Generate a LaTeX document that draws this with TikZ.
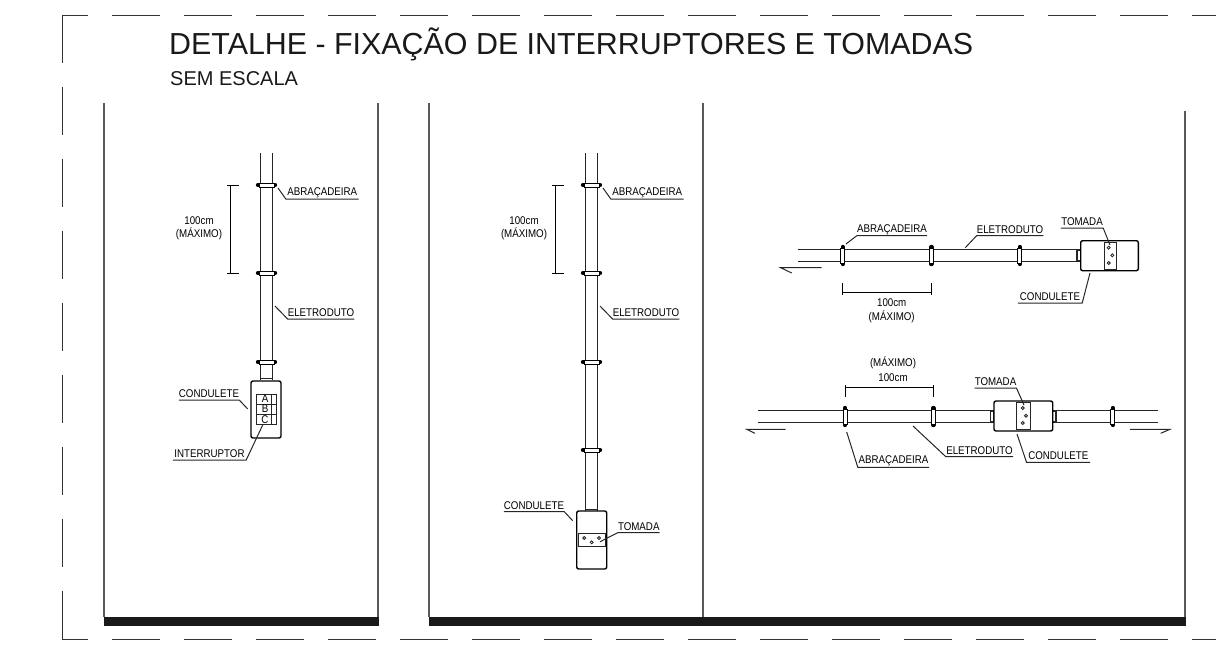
\documentclass[tikz,border=0pt]{standalone}
\usepackage{fontspec}
\setmainfont{Liberation Sans}
\newfontfamily\cadfont[FakeStretch=0.87]{Liberation Sans}
\tikzset{
  x=1pt,y=-1pt,
  frameline/.style={line width=.95pt,black!80},
  wall/.style={line width=1.2pt,black!65},
  ground/.style={fill=black!90,draw=none},
  pipe/.style={line width=1.1pt,black!85},
  box/.style={line width=1.4pt,black,fill=white,rounded corners=2pt},
  plate/.style={line width=.9pt,black!85,fill=white},
  hole/.style={line width=.8pt,black!85,fill=white},
  lead/.style={line width=1pt,black!85},
  dimline/.style={line width=1pt,black},
  cadtext/.style={font=\cadfont\fontsize{11.2}{12}\selectfont,text=black,inner sep=0pt},
  lbl/.style={cadtext,anchor=south,minimum height=12pt},
  clampbar/.style={line width=.9pt,black,fill=white},
  lobe/.style={line width=4.4pt,black,line cap=round},
}
\newcommand{\hclamp}[2]{%
  \draw[lobe] ({#1-8.5},#2) -- ({#1-7.5},#2);
  \draw[lobe] ({#1+7.5},#2) -- ({#1+8.5},#2);
  \draw[clampbar] ({#1-7.5},{#2-2}) rectangle ({#1+7.5},{#2+2});}
\newcommand{\vclamp}[2]{%
  \draw[lobe] (#1,{#2-8.5}) -- (#1,{#2-7.5});
  \draw[lobe] (#1,{#2+7.5}) -- (#1,{#2+8.5});
  \draw[clampbar] ({#1-2},{#2-7.5}) rectangle ({#1+2},{#2+7.5});}
\newcommand{\lab}[5]{% name, x1, x2, y of underline, text
  \node[lbl,minimum width={#3-#2}] (#1) at ({(#2+#3)/2},#4) {#5};}
\begin{document}
\begin{tikzpicture}
\useasboundingbox (0,0) rectangle (1216,653);
% frame
\draw[frameline] (88,15) -- (62,15) -- (62,63);
\foreach \k in {0,...,14} \draw[frameline] ({112+72*\k},15) -- ({160+72*\k},15);
\draw[frameline] (1192,15) -- (1216,15);
\foreach \k in {0,...,6} \draw[frameline] (62,{87+72*\k}) -- (62,{135+72*\k});
\draw[frameline] (62,591) -- (62,639) -- (88,639);
\foreach \k in {0,...,14} \draw[frameline] ({112+72*\k},639) -- ({160+72*\k},639);
\draw[frameline] (1192,639) -- (1216,639);
% titles
\node[anchor=base west,inner sep=0pt,font=\fontsize{30.4}{36}\selectfont,text=black!90] (title) at (169,54) {DETALHE - FIXAÇÃO DE INTERRUPTORES E TOMADAS};
\node[anchor=base west,inner sep=0pt,font=\fontsize{20}{22}\selectfont,text=black!90] (subtitle) at (170,85) {SEM ESCALA};
% walls and ground
\draw[wall] (104,103) -- (104,617);
\draw[wall] (378,103) -- (378,617);
\draw[wall] (429,103) -- (429,617);
\draw[wall] (703,103) -- (703,617);
\draw[wall] (1185,111) -- (1185,617);
\fill[ground] (103.5,617) rectangle (379,626);
\fill[ground] (428.5,617) rectangle (1186,626);

% ---------- panel 1
\draw[pipe] (260.5,153) -- (260.5,380);
\draw[pipe] (272.5,153) -- (272.5,380);
\hclamp{266.5}{185}\hclamp{266.5}{273}\hclamp{266.5}{362}
\draw[pipe] (260,378.5) -- (273,378.5);
\draw[box] (251,381) rectangle (281,438);
\draw[plate] (256.7,394) rectangle (276.7,404);
\draw[plate] (256.7,404) rectangle (276.7,414);
\draw[plate] (256.7,414) rectangle (276.7,424.3);
\draw[plate] (271.7,394) -- (271.7,424.3);
\node[cadtext] (swA) at (265,399) {A};
\node[cadtext] (swB) at (265,409) {B};
\node[cadtext] (swC) at (265,419.5) {C};
\draw[dimline] (230.7,185) -- (230.7,273);
\draw[dimline] (227,185) -- (239,185);
\draw[dimline] (227,273) -- (239,273);
\node[cadtext] (dima1) at (199,221) {100cm};
\node[cadtext] (dima2) at (199,234) {(MÁXIMO)};
\lab{abr1}{286}{358.5}{199}{ABRAÇADEIRA}
\coordinate (abr1t) at (278,188);
\draw[lead] (abr1t) -- (abr1.south west) -- (abr1.south east);
\lab{ele1}{288}{354}{319}{ELETRODUTO}
\coordinate (ele1t) at (275,306);
\draw[lead] (ele1t) -- (ele1.south west) -- (ele1.south east);
\lab{con1}{179}{239}{400}{CONDULETE}
\coordinate (con1t) at (247.7,409);
\draw[lead] (con1t) -- (con1.south east) -- (con1.south west);
\lab{int1}{173}{246}{460}{INTERRUPTOR}
\coordinate (int1t) at (262.7,425);
\draw[lead] (int1t) -- (int1.south east) -- (int1.south west);

% ---------- panel 2
\draw[pipe] (585.5,153) -- (585.5,511);
\draw[pipe] (597.5,153) -- (597.5,511);
\hclamp{591.5}{185}\hclamp{591.5}{273}\hclamp{591.5}{362}\hclamp{591.5}{450}
\draw[pipe] (585,509.5) -- (598,509.5);
\draw[box] (576.7,511) rectangle (606.7,569);
\draw[plate] (578,533.3) rectangle (605.5,546.7);
\draw[hole] (584.3,538) circle (1.5);
\draw[hole] (591.7,542.3) circle (1.5);
\draw[hole] (599,538) circle (1.5);
\draw[dimline] (555.7,185) -- (555.7,273);
\draw[dimline] (552,185) -- (564,185);
\draw[dimline] (552,273) -- (564,273);
\node[cadtext] (dimb1) at (524,221) {100cm};
\node[cadtext] (dimb2) at (524,234) {(MÁXIMO)};
\lab{abr2}{611}{683.5}{199}{ABRAÇADEIRA}
\coordinate (abr2t) at (603,188);
\draw[lead] (abr2t) -- (abr2.south west) -- (abr2.south east);
\lab{ele2}{613}{679}{319}{ELETRODUTO}
\coordinate (ele2t) at (600,306);
\draw[lead] (ele2t) -- (ele2.south west) -- (ele2.south east);
\lab{con2}{504}{564}{511.7}{CONDULETE}
\coordinate (con2t) at (572.7,520.7);
\draw[lead] (con2t) -- (con2.south east) -- (con2.south west);
\lab{tom2}{618}{659.5}{532.7}{TOMADA}
\coordinate (tom2t) at (600,541.7);
\draw[lead] (tom2t) -- (tom2.south west) -- (tom2.south east);

% ---------- panel 3, upper
\draw[pipe] (798.3,249.5) -- (1077,249.5);
\draw[pipe] (798.3,261.5) -- (1077,261.5);
\vclamp{842.7}{255.5}\vclamp{931.3}{255.5}\vclamp{1019.7}{255.5}
\draw[pipe,fill=white] (1077,250) rectangle (1081,261);
\draw[box] (1080.7,240.7) rectangle (1138.3,270.7);
\draw[plate] (1104,242) rectangle (1116.7,269.5);
\draw[hole] (1108.7,247.7) circle (1.5);
\draw[hole] (1112.3,255.3) circle (1.5);
\draw[hole] (1108.7,263) circle (1.5);
\draw[lead] (791.7,273) -- (780.7,267.7) -- (821.7,267.7);
\draw[dimline] (842.7,292) -- (931.3,292);
\draw[dimline] (842.7,283) -- (842.7,294.5);
\draw[dimline] (931.3,283) -- (931.3,294.5);
\node[cadtext] (dimc1) at (891.7,303) {100cm};
\node[cadtext] (dimc2) at (891.7,316.7) {(MÁXIMO)};
\lab{abr3}{857}{927}{235.7}{ABRAÇADEIRA}
\coordinate (abr3t) at (846,244);
\draw[lead] (abr3t) -- (abr3.south west) -- (abr3.south east);
\lab{ele3}{977}{1043}{235.7}{ELETRODUTO}
\coordinate (ele3t) at (965.3,247.7);
\draw[lead] (ele3t) -- (ele3.south west) -- (ele3.south east);
\lab{tom3}{1061}{1103}{228}{TOMADA}
\coordinate (tom3t) at (1110,245);
\draw[lead] (tom3t) -- (tom3.south east) -- (tom3.south west);
\lab{con3}{1018}{1082}{303}{CONDULETE}
\coordinate (con3t) at (1090,273);
\draw[lead] (con3t) -- (con3.south east) -- (con3.south west);

% ---------- panel 3, lower
\draw[pipe] (758.3,410.5) -- (991,410.5);
\draw[pipe] (758.3,422.5) -- (991,422.5);
\draw[pipe] (1056,410.5) -- (1157.7,410.5);
\draw[pipe] (1056,422.5) -- (1157.7,422.5);
\vclamp{845}{416.5}\vclamp{933.3}{416.5}\vclamp{1112.7}{416.5}
\draw[pipe,fill=white] (990.5,411) rectangle (994,422);
\draw[pipe,fill=white] (1052.7,411) rectangle (1056,422);
\draw[box] (994,401) rectangle (1052.7,431);
\draw[plate] (1016.7,402.3) rectangle (1030.7,429.7);
\draw[hole] (1022.7,408) circle (1.5);
\draw[hole] (1026,415.7) circle (1.5);
\draw[hole] (1022.7,423) circle (1.5);
\draw[lead] (755,433.3) -- (746.7,429.3) -- (785.7,429.3);
\draw[lead] (1160.7,433.3) -- (1170,429.3) -- (1130,429.3);
\draw[dimline] (845,387.3) -- (933.3,387.3);
\draw[dimline] (845,385) -- (845,396.7);
\draw[dimline] (933.3,385) -- (933.3,396.7);
\node[cadtext] (dimd1) at (893,363) {(MÁXIMO)};
\node[cadtext] (dimd2) at (893,377.7) {100cm};
\lab{tom4}{975}{1016}{388}{TOMADA}
\coordinate (tom4t) at (1024,405);
\draw[lead] (tom4t) -- (tom4.south east) -- (tom4.south west);
\lab{abr4}{858}{929}{467.3}{ABRAÇADEIRA}
\coordinate (abr4t) at (846.7,432);
\draw[lead] (abr4t) -- (abr4.south west) -- (abr4.south east);
\lab{ele4}{946}{1013}{456.7}{ELETRODUTO}
\coordinate (ele4t) at (913,426);
\draw[lead] (ele4t) -- (ele4.south west) -- (ele4.south east);
\lab{con4}{1026.7}{1090}{462.3}{CONDULETE}
\coordinate (con4t) at (1017,434);
\draw[lead] (con4t) -- (con4.south west) -- (con4.south east);
\end{tikzpicture}
\end{document}
